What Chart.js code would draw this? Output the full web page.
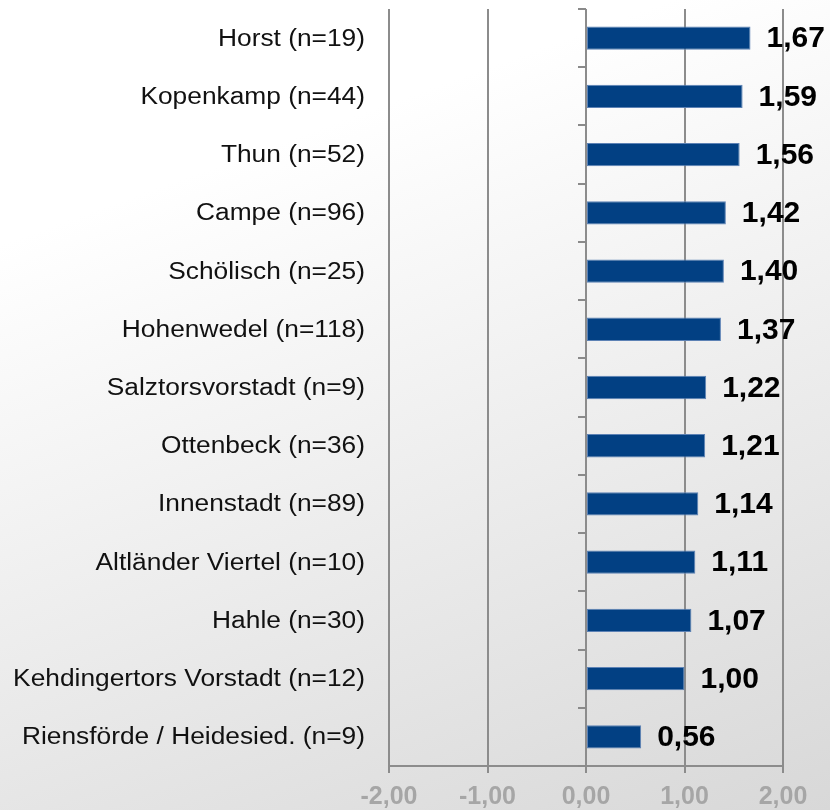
<!DOCTYPE html>
<html>
<head>
<meta charset="utf-8">
<script src="https://cdn.jsdelivr.net/npm/chart.js@4.4.1/dist/chart.umd.min.js"></script>
<style>
  html, body { margin: 0; padding: 0; }
  body {
    width: 830px; height: 810px; overflow: hidden;
    background: linear-gradient(160deg, #ffffff 0%, #ffffff 22%, #d8d8d8 100%);
  }
  #wrap { position: relative; width: 830px; height: 810px; }
</style>
</head>
<body>
<div id="wrap"><canvas id="myChart"></canvas></div>
<script>
// Stadtteile mit Fallzahl
const stadtteile = ['Horst (n=19)', 'Kopenkamp (n=44)', 'Thun (n=52)', 'Campe (n=96)', 'Schölisch (n=25)',
  'Hohenwedel (n=118)', 'Salztorsvorstadt (n=9)', 'Ottenbeck (n=36)', 'Innenstadt (n=89)',
  'Altländer Viertel (n=10)', 'Hahle (n=30)', 'Kehdingertors Vorstadt (n=12)', 'Riensförde / Heidesied. (n=9)'];
// Mittelwerte
const mittelwerte = [1.67, 1.59, 1.56, 1.42, 1.40, 1.37, 1.22, 1.21, 1.14, 1.11, 1.07, 1.00, 0.56];
// Achse
const xMin = -2, xMax = 2, xStep = 1;

const komma = v => Number(v).toFixed(2).replace('.', ',');
const police = '"Liberation Sans", Arial, sans-serif';

// traits sur l'axe a x=0, valeurs des barres, libelles des categories (un peu elargis comme l'original)
const dessins = {
  id: 'dessins',
  afterDatasetsDraw(chart) {
    const ctx = chart.ctx, x = chart.scales.x, y = chart.scales.y;
    const x0 = x.getPixelForValue(0);
    ctx.save();
    ctx.strokeStyle = '#8a8a8a';
    ctx.lineWidth = 2;
    for (let i = 0; i <= stadtteile.length; i++) {
      const py = Math.round(y.getPixelForValue(i - 0.5));
      ctx.beginPath();
      ctx.moveTo(x0 - 8, py);
      ctx.lineTo(x0, py);
      ctx.stroke();
    }
    ctx.font = 'bold 30px ' + police;
    ctx.fillStyle = '#000';
    ctx.textAlign = 'left';
    ctx.textBaseline = 'middle';
    chart.getDatasetMeta(0).data.forEach((bar, i) => {
      ctx.fillText(komma(mittelwerte[i]), bar.x + 16, bar.y + 1);
    });
    ctx.font = '23.5px ' + police;
    ctx.fillStyle = '#111';
    ctx.textAlign = 'right';
    stadtteile.forEach((nom, i) => {
      ctx.save();
      ctx.translate(x.left - 24, y.getPixelForValue(i) + 1);
      ctx.scale(1.12, 1);
      ctx.fillText(nom, 0, 0);
      ctx.restore();
    });
    ctx.restore();
  }
};

const ctx = document.getElementById('myChart').getContext('2d');
const config = {
  type: 'bar',
  data: {
    labels: stadtteile,
    datasets: [{
      data: mittelwerte,
      backgroundColor: '#024083',
      borderColor: '#5d82b5',
      borderWidth: 1,
      borderSkipped: false,
      categoryPercentage: 1,
      barPercentage: 0.4
    }]
  },
  options: {
    indexAxis: 'y',
    responsive: true,
    maintainAspectRatio: false,
    animation: false,
    layout: { padding: { top: 9, right: 47, bottom: 0, left: 0 } },
    plugins: { legend: { display: false }, tooltip: { enabled: false } },
    scales: {
      x: {
        min: xMin, max: xMax,
        ticks: {
          stepSize: xStep,
          callback: v => komma(v),
          color: '#a6a6a6',
          font: { family: police, size: 25, weight: 'bold' },
          padding: 9
        },
        grid: { color: '#8c8c8c', lineWidth: 2, tickLength: 7, drawTicks: true },
        border: { color: '#8c8c8c', width: 2 },
        afterFit: s => { s.height = 44; }
      },
      y: {
        ticks: { display: false },
        grid: { display: false, drawTicks: false },
        border: { display: false },
        afterFit: s => { s.width = 389; }
      }
    }
  },
  plugins: [dessins]
};
const myChart = new Chart(ctx, config);
</script>
</body>
</html>
